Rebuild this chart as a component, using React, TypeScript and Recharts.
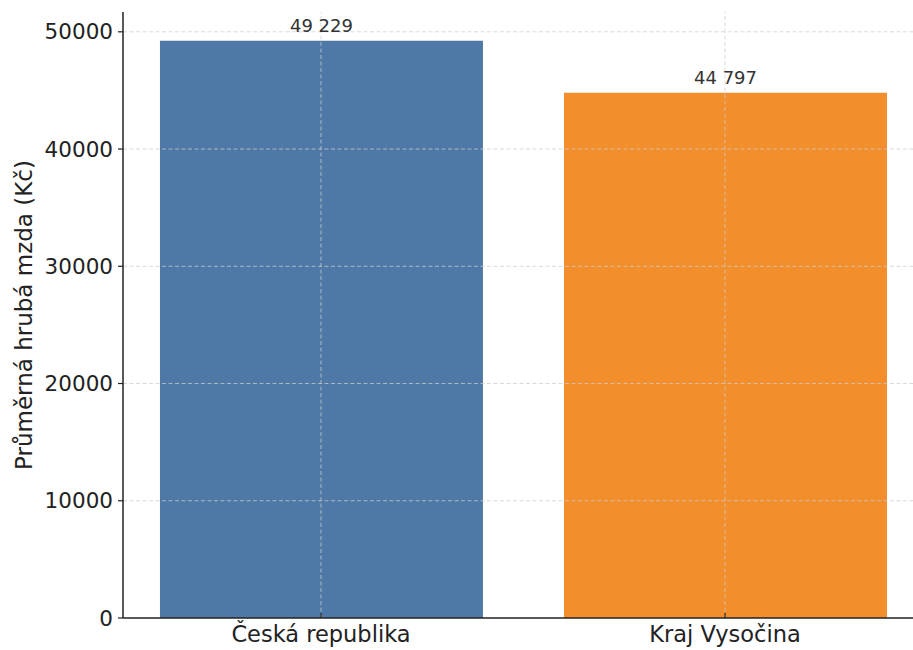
import React from "react";
import { BarChart, Bar, XAxis, YAxis, Cell, LabelList, ReferenceLine } from "recharts";

const regions = ["Česká republika", "Kraj Vysočina"];
const wages = [49229, 44797];
const barColors = ["#4e79a7", "#f28e2b"];
const yTicks = [0, 10000, 20000, 30000, 40000, 50000];
const xTicks = [0, 1];

const data = regions.map((name, i) => ({ pos: i, name, wage: wages[i] }));

const FONT = "'DejaVu Sans', sans-serif";
const GRID = { stroke: "#cccccc", strokeDasharray: "4 2.5", strokeOpacity: 0.75, strokeWidth: 1 };

const formatValue = (v: number) => String(v).replace(/\B(?=(\d{3})+(?!\d))/g, " ");

const YLabel = ({ viewBox }: any) => {
  const x = viewBox.x + 24;
  const y = viewBox.y + viewBox.height / 2;
  return (
    <text
      x={x}
      y={y}
      transform={`rotate(-90, ${x}, ${y})`}
      textAnchor="middle"
      dominantBaseline="central"
      fontFamily={FONT}
      fontSize={23}
      fill="#222"
    >
      Průměrná hrubá mzda (Kč)
    </text>
  );
};

export default function App() {
  return (
    <div
      style={{
        position: "absolute",
        left: 0,
        top: 0,
        width: 913,
        height: 650,
        overflow: "hidden",
        background: "#fff",
      }}
    >
      <BarChart
        width={930}
        height={650}
        data={data}
        margin={{ top: 12, right: 7, bottom: 0, left: 0 }}
      >
        <Bar dataKey="wage" barSize={323} isAnimationActive={false}>
          {data.map((d, i) => (
            <Cell key={d.name} fill={barColors[i]} />
          ))}
          <LabelList
            dataKey="wage"
            position="top"
            offset={9}
            formatter={(v: any) => formatValue(Number(v))}
            style={{ fontFamily: FONT, fontSize: 18, fill: "#333" }}
          />
        </Bar>
        {yTicks.slice(1).map((t) => (
          <ReferenceLine key={`y${t}`} y={t} {...GRID} />
        ))}
        {xTicks.map((t) => (
          <ReferenceLine key={`x${t}`} x={t} {...GRID} />
        ))}
        <XAxis
          dataKey="pos"
          type="number"
          domain={[-0.49, 1.49]}
          ticks={xTicks}
          tickFormatter={(v: number) => regions[v] ?? ""}
          height={32}
          tickSize={-5}
          tickMargin={13}
          axisLine={{ stroke: "#222", strokeWidth: 1.5 }}
          tickLine={{ stroke: "#222", strokeWidth: 1.2 }}
          tick={{ fontFamily: FONT, fontSize: 22.5, fill: "#222" }}
        />
        <YAxis
          width={123}
          domain={[0, 51690]}
          ticks={yTicks}
          tickSize={5}
          tickMargin={5}
          axisLine={{ stroke: "#222", strokeWidth: 1.5 }}
          tickLine={{ stroke: "#222", strokeWidth: 1.2 }}
          tick={{ fontFamily: FONT, fontSize: 21.5, fill: "#222" }}
          label={<YLabel />}
        />
      </BarChart>
    </div>
  );
}
